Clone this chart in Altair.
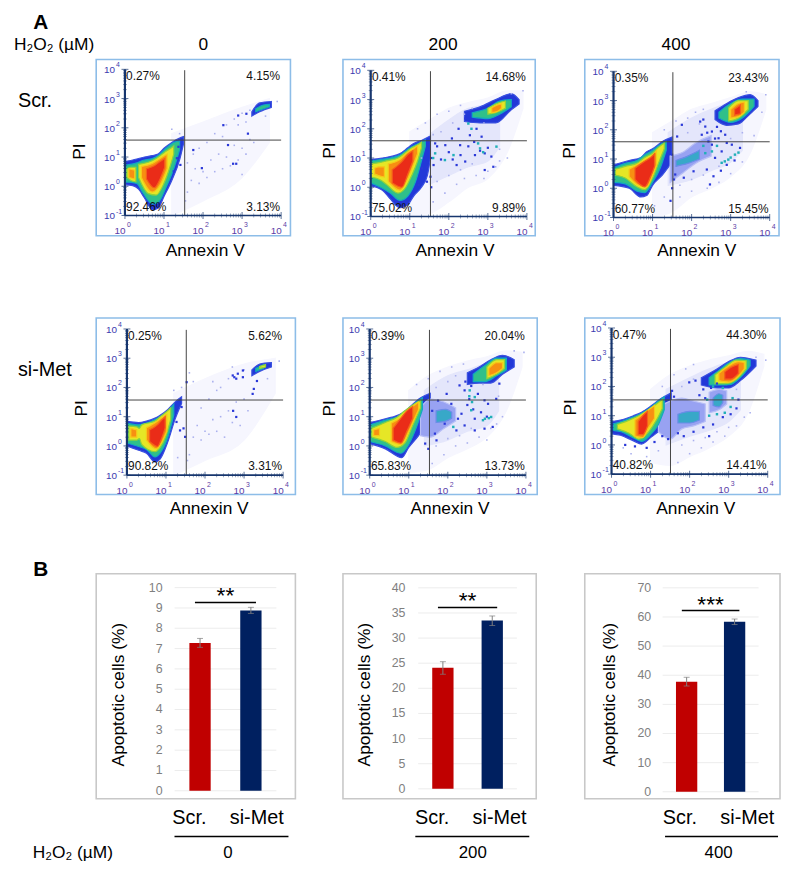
import numpy as np
import pandas as pd
import altair as alt

FONT = "Liberation Sans"
FILL = {"haze": "#f6f6fe", "haze2": "#e4e6fb", "mid": "#98a2f2", "teal": "#38a8c8", "blue": "#2238d8", "green": "#2fc08a", "yellow": "#e6e626", "orange": "#f78f12", "red": "#ea2c18"}
EDGE = {"haze": "#f6f6fe", "haze2": "#e4e6fb", "mid": "#b8bff6", "teal": "#6a8ce8", "blue": "#3a50e0", "green": "#12a8c0", "yellow": "#8fd23c", "orange": "#f7c818", "red": "#f4601a"}

# Density regions: (log10 Annexin V, low log10 PI, high log10 PI)
BLOBS_SCR_0 = [
 ("haze", [(1.2,-1,1.8),(2,-.5,2.2),(3,.3,2.7),(3.7,1.5,3.0)]),
 ("blue", [(0,.05,.85),(.2,.02,.9),(.35,-.1,.95),(.5,-.4,1.0),(.7,-.8,1.05),(.85,-.75,1.1),(1.0,-.35,1.3),(1.2,.2,1.5),(1.4,.9,1.65),(1.5,1.45,1.7)]),
 ("green", [(0,.15,.72),(.3,.1,.8),(.45,-.2,.88),(.7,-.6,.95),(.85,-.55,1.05),(1.05,-.05,1.3),(1.25,.6,1.5),(1.4,1.25,1.55)]),
 ("yellow", [(.05,.3,.6),(.15,.2,.65),(.28,.15,.65)]),
 ("yellow", [(.35,.3,.75),(.6,-.25,.82),(.8,-.3,.95),(1.0,.1,1.15),(1.15,.65,1.28),(1.25,1.1,1.38)]),
 ("orange", [(.1,.3,.6),(.25,.25,.55)]),
 ("orange", [(.42,.3,.68),(.7,-.2,.78),(.9,.05,.95),(1.08,.6,1.1)]),
 ("red", [(.55,.25,.6),(.75,-.05,.7),(.9,.25,.85),(1.02,.65,.95)]),
 ("blue", [(3.25,2.4,2.55),(3.45,2.55,2.85),(3.75,2.7,2.9)]),
 ("green", [(3.35,2.55,2.65),(3.55,2.65,2.78),(3.7,2.72,2.8)]),
]
BLOBS_SCR_200 = [
 ("haze", [(1,-1,1.9),(1.5,-.9,2.3),(2,-.5,2.7),(2.5,.0,2.9),(3,.3,3.05),(3.5,1.2,3.3),(3.9,2.7,3.3)]),
 ("haze2", [(1.5,.1,1.8),(2,.4,2.3),(2.5,.7,2.7),(3,.9,2.8),(3.3,1.4,2.6)]),
 ("blue", [(0,.05,.95),(.3,-.1,1.0),(.5,-.4,1.05),(.75,-.7,1.15),(.95,-.6,1.35),(1.1,-.3,1.5),(1.3,.0,1.6),(1.45,.4,1.7),(1.53,1.0,1.75)]),
 ("green", [(0,.15,.9),(.25,.0,.95),(.5,-.2,1.0),(.75,-.45,1.1),(.95,-.3,1.3),(1.15,.2,1.45),(1.3,.9,1.55),(1.4,1.4,1.62)]),
 ("yellow", [(0,.35,.8),(.25,.25,.85),(.4,.1,.9),(.7,-.2,1.0),(.9,.0,1.2),(1.05,.4,1.35),(1.2,.9,1.45),(1.3,1.35,1.55)]),
 ("orange", [(.1,.45,.65),(.2,.4,.7),(.35,.35,.7)]),
 ("orange", [(.45,.2,.8),(.75,-.1,.95),(.95,.3,1.2),(1.1,.8,1.32),(1.2,1.15,1.42)]),
 ("red", [(.55,.15,.6),(.8,.0,.88),(.95,.45,1.12),(1.08,.9,1.25)]),
 ("blue", [(2.4,2.25,2.6),(2.8,2.2,2.75),(3.2,2.2,3.0),(3.6,2.65,3.2),(3.8,2.85,3.0)]),
 ("green", [(2.6,2.4,2.55),(3.0,2.35,2.7),(3.3,2.5,2.95),(3.6,2.75,3.0)]),
 ("yellow", [(3.0,2.5,2.7),(3.2,2.55,2.85),(3.45,2.7,2.95)]),
 ("orange", [(3.1,2.55,2.72),(3.25,2.6,2.82),(3.35,2.7,2.85)]),
]
BLOBS_SCR_400 = [
 ("haze", [(1,-1,1.9),(1.5,-.8,2.3),(2,-.3,2.7),(2.5,.0,2.9),(3,.4,3.1),(3.5,1.2,3.3),(3.9,2.7,3.2)]),
 ("haze2", [(1.4,.1,1.9),(2,.3,2.4),(2.5,.6,2.7),(3,.9,2.9),(3.3,1.3,2.7)]),
 ("blue", [(0,.1,.8),(.4,.0,.95),(.7,-.3,1.05),(.85,-.25,1.25),(1.0,.1,1.35),(1.25,.45,1.6),(1.5,.9,1.75)]),
 ("mid", [(1.45,.2,1.1),(1.8,.55,1.25),(2.1,.85,1.55),(2.5,1.1,1.8)]),
 ("teal", [(1.6,.75,.95),(1.9,.85,1.1),(2.2,1.0,1.3)]),
 ("green", [(0,.2,.7),(.3,.15,.85),(.6,-.1,.95),(.8,-.15,1.15),(1.0,.2,1.3),(1.2,.7,1.5),(1.35,1.3,1.6)]),
 ("yellow", [(.05,.45,.65),(.3,.35,.75),(.6,.05,.85),(.8,-.05,1.05),(1.0,.35,1.2),(1.15,.85,1.4),(1.3,1.35,1.55)]),
 ("orange", [(.4,.4,.65),(.65,.1,.85),(.85,.05,1.0),(1.0,.45,1.12),(1.1,.8,1.28)]),
 ("red", [(.55,.3,.68),(.8,.05,.92),(.95,.4,1.05),(1.05,.75,1.18)]),
 ("blue", [(2.6,2.35,2.65),(2.9,2.15,2.9),(3.2,2.2,3.1),(3.5,2.55,3.2),(3.7,2.8,3.0)]),
 ("green", [(2.7,2.4,2.6),(3.0,2.25,2.9),(3.3,2.4,3.05),(3.6,2.8,3.05)]),
 ("yellow", [(2.95,2.3,2.75),(3.2,2.4,3.0),(3.45,2.7,3.0)]),
 ("orange", [(3.0,2.4,2.7),(3.2,2.45,2.9),(3.35,2.6,2.95)]),
 ("red", [(3.1,2.5,2.7),(3.25,2.55,2.85)]),
]
BLOBS_MET_0 = [
 ("haze", [(1.2,-1,1.8),(2,-.5,2.3),(3,.2,2.8),(3.8,1.8,3.0)]),
 ("blue", [(0,.0,.85),(.3,-.15,.8),(.5,-.25,.85),(.72,-.55,.95),(.85,-.45,1.05),(1.05,.15,1.25),(1.23,.9,1.5),(1.4,1.45,1.68)]),
 ("green", [(0,.1,.78),(.3,-.02,.72),(.5,-.12,.78),(.72,-.38,.9),(.85,-.25,1.0),(1.05,.3,1.2),(1.2,1.05,1.42)]),
 ("yellow", [(.05,.2,.68),(.25,.2,.65),(.32,.25,.6),(.38,.05,.72),(.72,-.2,.85),(.85,-.05,1.0),(1.0,.35,1.15),(1.12,.9,1.3)]),
 ("orange", [(.1,.3,.6),(.25,.3,.55)]),
 ("orange", [(.5,.2,.62),(.75,-.1,.82),(.9,.15,.97),(1.02,.5,1.08)]),
 ("red", [(.58,.15,.55),(.78,-.02,.72),(.9,.3,.9),(.98,.62,1.0)]),
 ("blue", [(3.2,2.4,2.6),(3.4,2.55,2.8),(3.7,2.7,2.85)]),
 ("green", [(3.3,2.55,2.65),(3.5,2.65,2.78)]),
 ("yellow", [(3.4,2.65,2.72),(3.55,2.7,2.78)]),
]
BLOBS_MET_200 = [
 ("haze", [(1,-.9,1.9),(1.5,-.8,2.4),(2,-.4,2.7),(2.5,-.1,2.9),(3,.3,3.05),(3.5,1.2,3.25),(3.9,2.7,3.2)]),
 ("haze2", [(1.4,.0,1.9),(2,.2,2.4),(2.5,.5,2.6),(3,.7,2.8),(3.3,1.2,2.6)]),
 ("blue", [(0,.08,.8),(.4,-.1,.93),(.82,-.4,1.12),(1.0,-.05,1.3),(1.25,.35,1.6),(1.55,1.0,1.8)]),
 ("mid", [(1.3,.35,1.3),(1.55,.3,1.6),(1.9,.6,1.5),(2.2,.85,1.3)]),
 ("teal", [(1.7,.8,1.2),(1.95,.85,1.25),(2.1,.95,1.15)]),
 ("green", [(0,.15,.72),(.4,.0,.88),(.8,-.25,1.05),(1.0,.05,1.25),(1.2,.65,1.5),(1.35,1.25,1.65)]),
 ("yellow", [(.05,.3,.6),(.4,.15,.8),(.7,-.05,.98),(.9,.1,1.2),(1.1,.7,1.4),(1.3,1.3,1.55)]),
 ("orange", [(.1,.35,.55),(.25,.35,.6)]),
 ("orange", [(.55,.15,.78),(.8,.05,.98),(1.0,.5,1.25),(1.15,.95,1.4),(1.25,1.25,1.5)]),
 ("red", [(.6,.2,.6),(.8,.1,.95),(.95,.5,1.2),(1.1,.95,1.35)]),
 ("blue", [(2.5,2.1,2.5),(2.8,2.15,2.7),(3.1,2.15,2.95),(3.4,2.45,3.1),(3.7,2.7,2.95)]),
 ("green", [(2.65,2.2,2.45),(2.95,2.2,2.75),(3.25,2.4,3.0),(3.5,2.6,3.0)]),
 ("yellow", [(3.0,2.3,2.7),(3.25,2.45,2.95),(3.45,2.65,2.95)]),
 ("orange", [(3.05,2.4,2.65),(3.25,2.5,2.85),(3.4,2.65,2.85)]),
]
BLOBS_MET_400 = [
 ("haze", [(1,-.6,1.9),(1.5,-.7,2.4),(2,-.4,2.7),(2.5,-.1,2.9),(3,.3,3.05),(3.5,1.1,3.2),(3.9,2.7,3.1)]),
 ("haze2", [(1.4,.0,1.9),(2,.3,2.3),(2.5,.5,2.6),(3,.8,2.8),(3.3,1.2,2.6)]),
 ("blue", [(0,.38,.8),(.23,.33,.85),(.56,.14,1.0),(.77,.03,1.12),(1.0,.25,1.32),(1.23,.5,1.55),(1.53,1.1,1.78)]),
 ("mid", [(1.2,.45,1.3),(1.5,.2,1.5),(1.8,.55,1.6),(2.1,.65,1.5),(2.4,.8,1.4)]),
 ("mid", [(2.5,1.1,1.8),(2.75,1.2,1.9),(2.95,1.4,1.85)]),
 ("teal", [(1.7,.75,1.05),(2.0,.75,1.15),(2.25,.85,1.15)]),
 ("teal", [(2.6,1.35,1.6),(2.75,1.3,1.75),(2.85,1.45,1.7)]),
 ("green", [(.05,.5,.72),(.25,.45,.8),(.55,.25,.95),(.77,.12,1.08),(1.0,.35,1.28),(1.2,.7,1.5),(1.35,1.2,1.65)]),
 ("yellow", [(.15,.55,.7),(.45,.4,.85),(.7,.2,1.0),(.95,.45,1.2),(1.15,.85,1.4),(1.3,1.25,1.55)]),
 ("orange", [(.6,.3,.85),(.8,.25,1.05),(.95,.6,1.2),(1.1,.9,1.35)]),
 ("red", [(.68,.35,.8),(.8,.35,1.0),(.92,.65,1.15)]),
 ("blue", [(2.3,2.05,2.3),(2.7,1.95,2.6),(3.0,1.95,2.85),(3.3,2.2,3.0),(3.7,2.7,2.9)]),
 ("green", [(2.5,2.05,2.3),(2.75,2.05,2.55),(3.0,2.05,2.8),(3.3,2.3,2.95),(3.55,2.7,2.9)]),
 ("yellow", [(2.65,2.1,2.4),(2.9,2.1,2.65),(3.2,2.25,2.9),(3.45,2.6,2.88)]),
 ("orange", [(2.75,2.2,2.45),(3.0,2.15,2.7),(3.25,2.35,2.85),(3.4,2.6,2.82)]),
 ("red", [(2.9,2.25,2.5),(3.05,2.25,2.65),(3.25,2.45,2.75)]),
]

# Individually visible specks
PALE_SCR_0 = [(1.6,-.2),(1.7,.2),(1.8,.6),(1.9,.1),(2.0,.5),(2.1,.3),(2.2,.9),(2.3,.5),(2.4,1.1),(2.5,.6),(2.6,1.0),(2.7,.7),(2.8,1.4),(2.9,.9),(3.0,1.3),(3.1,1.1),(3.2,1.6),(3.3,1.5),(2.6,2.1),(2.8,2.3),(2.9,2.1),(3.0,2.5),(3.1,2.2),(3.2,2.6),(3.6,2.4),(3.9,2.9),(3.0,.4),(1.6,.8),(1.75,1.1),(1.9,1.3),(2.1,1.5),(2.3,1.8),(2.5,1.7),(1.4,1.8),(1.2,1.95),(1.55,-.5)]
BLUE_SCR_0 = [(2.77,.77),(2.85,.77),(2.64,1.41),(2.52,2.09),(3.11,2.48),(2.9,2.42),(3.15,1.8),(1.75,1.24),(1.97,.62),(1.42,.73),(1.33,.96),(1.25,.51),(1.37,1.35)]
TEAL_SCR_0 = []
PALE_SCR_200 = [(1.6,-.5),(1.9,-.2),(2.2,.1),(2.4,.3),(2.7,.4),(3.0,.55),(3.3,.9),(3.5,1.0),(1.2,2.0),(1.4,2.2),(1.7,2.5),(2.0,2.6),(2.3,2.8),(3.6,3.2),(3.9,3.3),(3.2,.7),(2.9,.3),(1.8,1.9),(2.1,2.2),(2.4,2.5),(2.6,2.7),(1.7,.2),(2.0,.4),(2.3,.6),(2.6,.8),(3.3,1.3),(1.6,1.8),(2.9,2.2),(1.3,1.0)]
BLUE_SCR_200 = [(1.61,.76),(1.91,1.44),(2.29,1.44),(2.08,1.67),(2.25,2.0),(2.42,2.35),(2.54,1.78),(2.71,2.0),(2.84,1.73),(2.92,1.16),(3.09,1.05),(2.67,1.1),(2.42,.88),(2.2,.76),(2.92,.59),(3.14,.7),(1.53,.36),(1.44,.19),(1.31,.65),(1.23,.08),(1.7,1.4),(1.8,.95),(2.0,1.2),(2.3,1.1),(2.5,1.4),(2.6,2.3),(2.65,1.55),(2.8,1.25),(3.0,1.35),(1.55,1.0),(1.65,1.5),(2.1,.95),(1.55,.0),(1.45,.7)]
TEAL_SCR_200 = [(1.65,1.16),(2.12,1.1),(1.9,.93),(2.88,1.2),(3.22,1.39),(2.5,2.18),(2.58,2.0),(2.75,1.5),(2.8,1.33),(1.6,1.0)]
PALE_SCR_400 = [(1.3,2.0),(1.6,2.3),(1.9,2.4),(2.1,2.6),(2.3,2.7),(1.7,-.3),(2.0,-.1),(2.4,.0),(2.7,.2),(3.0,.5),(3.3,.9),(3.6,1.8),(3.8,2.6),(3.9,3.2),(3.4,3.3),(1.7,.1),(2.0,.3),(2.3,.45),(2.7,.75),(3.0,1.7),(3.3,1.9),(1.9,1.9),(2.2,2.2),(1.3,-.3),(1.05,-.6)]
BLUE_SCR_400 = [(2.22,2.28),(2.35,2.11),(2.52,1.94),(2.69,1.71),(2.86,1.83),(3.03,1.49),(2.43,1.6),(2.26,1.83),(2.52,1.49),(2.77,1.26),(2.6,1.04),(2.39,.64),(2.56,.41),(2.47,.13),(3.24,1.38),(1.75,2.17),(1.63,1.77),(1.5,1.15),(1.46,-.43),(2.05,.58),(1.8,.36),(1.58,.47),(2.65,2.1),(2.3,2.35),(2.4,1.9),(2.9,1.55),(3.1,.95),(2.9,.8),(2.75,.6),(1.5,.0),(1.55,.3),(2.6,1.7),(2.75,1.95)]
TEAL_SCR_400 = [(2.94,.98),(3.11,1.15),(2.77,.87),(2.35,1.2),(2.52,1.26),(3.0,1.05),(2.85,.92),(3.2,1.22),(2.65,1.45),(2.3,1.45)]
PALE_MET_0 = [(1.6,-.3),(1.7,.3),(1.8,.7),(1.9,.2),(2.0,.5),(2.1,.4),(2.2,.9),(2.3,.5),(2.4,1.0),(2.5,.3),(2.6,1.2),(2.7,.8),(2.8,1.5),(2.9,.7),(3.0,1.6),(3.1,1.2),(2.6,2.3),(2.4,2.0),(2.2,2.2),(1.6,2.5),(1.7,2.2),(1.9,1.3),(2.1,1.6),(2.3,1.9),(1.2,1.9),(1.4,2.0),(3.6,2.3),(3.9,2.9),(3.0,2.6),(2.7,2.7),(1.55,-.5),(1.3,-.4)]
BLUE_MET_0 = [(2.71,2.41),(2.84,2.47),(2.97,2.35),(2.97,2.58),(3.33,2.22),(3.22,1.78),(2.8,.99),(1.49,.31),(1.36,.53),(1.27,.82),(1.4,1.33),(1.53,2.18),(2.75,2.35),(2.8,2.3),(3.25,1.95),(2.72,1.2),(1.45,.6)]
TEAL_MET_0 = []
PALE_MET_200 = [(1.6,-.6),(1.9,-.3),(2.2,.0),(2.5,.1),(2.8,.3),(3.1,.6),(3.4,1.0),(1.2,2.1),(1.5,2.3),(1.8,2.55),(2.1,2.7),(2.4,2.8),(3.7,3.25),(3.95,3.2),(3.0,.2),(3.25,.75),(1.7,.0),(2.0,.25),(2.3,.35),(2.6,.6),(3.3,1.7),(1.7,2.0),(2.0,2.2),(2.2,2.4),(2.9,2.1)]
BLUE_MET_200 = [(2.09,1.44),(1.97,1.78),(2.3,2.07),(2.43,1.9),(2.77,1.78),(2.94,1.56),(3.24,1.61),(3.32,2.13),(2.26,.93),(2.43,.7),(2.22,.53),(2.69,.93),(2.35,1.1),(1.67,.42),(1.42,.08),(1.71,.19),(1.92,.76),(3.03,1.44),(3.15,.65),(2.69,.53),(2.94,.59),(1.6,1.2),(1.75,1.55),(2.55,1.6),(2.65,1.25),(2.85,1.15),(2.45,2.2),(2.6,2.05),(3.0,1.0),(1.5,-.1),(2.5,1.4)]
TEAL_MET_200 = [(2.6,1.22),(2.69,1.67),(2.56,1.9),(2.9,.88),(3.11,.99),(2.14,.65),(2.62,1.5),(2.55,1.7),(2.95,.93),(3.05,.95)]
PALE_MET_400 = [(1.7,-.6),(2.0,-.3),(2.3,-.1),(2.6,.1),(2.9,.3),(3.2,.65),(3.4,.95),(3.55,1.1),(1.3,2.0),(1.6,2.4),(1.9,2.6),(2.1,2.75),(3.7,3.0),(3.95,2.9),(.3,-.1),(.5,-.3),(.9,-.4),(1.2,-.2),(1.8,.0),(2.1,.15),(2.4,.25),(2.7,.45),(3.0,.6),(1.8,2.0),(2.1,2.25),(3.2,1.9)]
BLUE_MET_400 = [(1.99,2.14),(2.15,2.2),(2.35,1.9),(2.4,1.6),(1.6,1.65),(1.55,1.85),(1.7,.4),(1.85,.3),(2.1,.45),(2.35,.6),(2.6,.7),(2.85,.95),(3.05,1.05),(3.2,1.25),(3.25,1.55),(3.0,2.0),(2.7,2.1),(2.5,.3),(.35,.0),(.6,-.05),(.9,-.1),(1.1,.1),(1.3,.3),(1.45,.2),(2.25,1.7),(2.55,1.95)]
TEAL_MET_400 = [(2.7,1.05),(2.9,1.1),(3.05,1.3),(2.5,1.0),(2.85,1.95),(2.6,2.0),(2.45,1.55),(3.1,1.6)]

X_TICKS = [0, 1, 2, 3, 4]
Y_TICKS = [-1, 0, 1, 2, 3, 4]
MULT = [2, 3, 4, 5, 6, 7, 8, 9]
QUADRANTS = {
    "scr0": ["0.27%", "4.15%", "92.46%", "3.13%"],
    "scr200": ["0.41%", "14.68%", "75.02%", "9.89%"],
    "scr400": ["0.35%", "23.43%", "60.77%", "15.45%"],
    "met0": ["0.25%", "5.62%", "90.82%", "3.31%"],
    "met200": ["0.39%", "20.04%", "65.83%", "13.73%"],
    "met400": ["0.47%", "44.30%", "40.82%", "14.41%"],
}
CONDITIONS = ["Scr.", "si-Met"]
BAR_COLORS = ["#c00000", "#002060"]
DOSES = ["0", "200", "400"]
BAR_VALUES = [[7.27, 8.87], [24.1, 33.5], [37.8, 58.4]]
ERR_LOW = [[7.06, 8.73], [22.8, 32.5], [36.3, 57.4]]
ERR_HIGH = [[7.5, 9.03], [25.3, 34.4], [39.3, 59.3]]
BAR_TICKS = [list(range(0, 11)), list(range(0, 41, 5)), list(range(0, 71, 10))]
SIG_Y = [9.27, 36.1, 62.2]
SIG_STARS = ["**", "**", "***"]


def label(text, x, y, size=17, weight="normal", angle=0, align="center", color="black"):
    return alt.Chart(pd.DataFrame({"t": [text]})).mark_text(
        font=FONT, fontSize=size, fontWeight=weight, angle=angle, align=align,
        baseline="middle", color=color
    ).encode(x=alt.value(x), y=alt.value(y), text="t:N")


def flow(key, blobs, pale, blue, teal, gate, w, left, top, xtitle, ytitle, xdec=39.4, ydec=29.5):
    h = 178
    xs = alt.Scale(domain=[-left / xdec, (w - left) / xdec], nice=False, zero=False)
    ys = alt.Scale(domain=[-1 - (h - top - 5 * ydec) / ydec, 4 + top / ydec], nice=False, zero=False)
    X = lambda f="x": alt.X(f"{f}:Q", scale=xs, axis=None)
    Y = lambda f="y": alt.Y(f"{f}:Q", scale=ys, axis=None, stack=None)

    rows = []
    for i, (lev, pts) in enumerate(blobs):
        for (x, lo, hi) in pts:
            rows.append({"x": x, "lo": lo, "hi": hi, "fill": FILL[lev], "edge": EDGE[lev], "blob": f"{i:02d}"})
    blob_df = pd.DataFrame(rows)

    def dots(pts, color, size):
        d = pd.DataFrame(pts if pts else [(-9.0, -9.0)], columns=["x", "y"])
        return alt.Chart(d).transform_filter("datum.x > -5").mark_square(color=color, size=size, opacity=1).encode(x=X(), y=Y())

    y_axis = alt.Chart(pd.DataFrame({"x": [0], "y": [-1], "y2": [4]})).mark_rule(
        color="#17366e", strokeWidth=2.2).encode(x=X(), y=Y(), y2="y2:Q")
    x_axis = alt.Chart(pd.DataFrame({"x": [0], "x2": [4], "y": [-1]})).mark_rule(
        color="#17366e", strokeWidth=1.6).encode(x=X(), x2="x2:Q", y=Y())

    areas = alt.Chart(blob_df).mark_area(interpolate="monotone", strokeWidth=1.2).encode(
        x=X(), y=Y("lo"), y2="hi:Q",
        color=alt.Color("fill:N", scale=None),
        stroke=alt.Stroke("edge:N", scale=None),
        detail="blob:N",
    )
    gate_v = alt.Chart(pd.DataFrame({"x": [gate[0]], "y": [-1], "y2": [3.97]})).mark_rule(
        color="#444444", strokeWidth=1).encode(x=X(), y=Y(), y2="y2:Q")
    gate_h = alt.Chart(pd.DataFrame({"x": [0], "x2": [4], "y": [gate[1]]})).mark_rule(
        color="#444444", strokeWidth=1).encode(x=X(), x2="x2:Q", y=Y())

    decades_x = [d + np.log10(m) for d in X_TICKS[:-1] for m in MULT]
    decades_y = [d + np.log10(m) for d in Y_TICKS[:-1] for m in MULT]
    minor_x = alt.Chart(pd.DataFrame({"x": decades_x, "y": -1.0})).mark_tick(
        orient="vertical", size=4, thickness=0.6, color="#17366e").encode(x=X(), y=Y())
    minor_y = alt.Chart(pd.DataFrame({"x": 0.0, "y": decades_y})).mark_tick(
        orient="horizontal", size=4, thickness=0.6, color="#17366e").encode(x=X(), y=Y())
    major_x = alt.Chart(pd.DataFrame({"x": X_TICKS, "y": -1.0})).mark_tick(
        orient="vertical", size=7, thickness=1, color="#17366e").encode(x=X(), y=Y())
    major_y = alt.Chart(pd.DataFrame({"x": 0.0, "y": Y_TICKS})).mark_tick(
        orient="horizontal", size=7, thickness=1, color="#17366e").encode(x=X(), y=Y())

    xt = pd.DataFrame({"x": X_TICKS, "y": -1.0, "exp": [str(v) for v in X_TICKS], "b": "10"})
    yt = pd.DataFrame({"x": 0.0, "y": Y_TICKS, "exp": [str(v) for v in Y_TICKS], "b": "10"})
    PURPLE, BLUE = "#5b3da6", "#3b3bb0"
    x10 = alt.Chart(xt).mark_text(font=FONT, fontSize=10, color=PURPLE, align="center", dx=-5, dy=16).encode(x=X(), y=Y(), text="b:N")
    xe = alt.Chart(xt).mark_text(font=FONT, fontSize=7, color=PURPLE, align="left", dx=2, dy=10).encode(x=X(), y=Y(), text="exp:N")
    y10 = alt.Chart(yt).mark_text(font=FONT, fontSize=10, color=BLUE, align="right", dx=-10, dy=1).encode(x=X(), y=Y(), text="b:N")
    ye = alt.Chart(yt).mark_text(font=FONT, fontSize=7, color=BLUE, align="left", dx=-9, dy=-4).encode(x=X(), y=Y(), text="exp:N")

    q = QUADRANTS[key]
    qdf = pd.DataFrame({"x": [.03, 3.97, .03, 3.97], "y": [3.76, 3.76, -.7, -.7], "t": q,
                        "a": ["l", "r", "l", "r"]})
    q_left = alt.Chart(qdf[qdf.a == "l"]).mark_text(font=FONT, fontSize=12, align="left", color="#111").encode(x=X(), y=Y(), text="t:N")
    q_right = alt.Chart(qdf[qdf.a == "r"]).mark_text(font=FONT, fontSize=12, align="right", color="#111").encode(x=X(), y=Y(), text="t:N")

    return alt.layer(
        areas, dots(pale, "#aab0ee", 2.5), dots(blue, "#2a38d8", 5), dots(teal, "#20b0b8", 6),
        gate_v, gate_h, y_axis, x_axis, minor_x, minor_y, major_x, major_y, x10, xe, y10, ye, q_left, q_right,
        label("Annexin V", xtitle, h + 15, size=17.5),
        label("PI", ytitle[0], ytitle[1], size=17.5, angle=270),
    ).properties(width=w, height=h, view=alt.ViewBackground(stroke="#8dbde8", strokeWidth=1.6, fill="white"))


def bars(i, w, a, sep, y0, unit, tick_right, title_x, star_dy, lab_x, rule_x, dose_x):
    h = 227
    xs = alt.Scale(domain=[-a / sep, (w - a) / sep], nice=False, zero=False)
    ys = alt.Scale(domain=[-(h - y0) / unit, y0 / unit], nice=False, zero=False)
    X = lambda: alt.X("i:Q", scale=xs, axis=None)
    Y = lambda f="v": alt.Y(f"{f}:Q", scale=ys, axis=None)
    df = pd.DataFrame({"i": [0, 1], "cond": CONDITIONS, "c": BAR_COLORS, "v": BAR_VALUES[i], "lo": ERR_LOW[i],
                       "hi": ERR_HIGH[i], "z": [0, 0]})
    tick_df = pd.DataFrame({"i": -0.5, "i2": 1.5, "v": BAR_TICKS[i]})
    grid = alt.Chart(tick_df).mark_rule(color="#ececec", strokeWidth=1).encode(x=X(), x2="i2:Q", y=Y())
    tick_text = alt.Chart(tick_df).mark_text(
        font=FONT, fontSize=12.5, color="#7f7f7f", align="right", baseline="middle"
    ).encode(x=alt.value(tick_right), y=Y(), text="v:Q")
    bar = alt.Chart(df).mark_bar(size=21.5, orient="vertical").encode(
        x=X(), y=Y(), y2="z:Q", color=alt.Color("c:N", scale=None),
    )
    err = alt.Chart(df).mark_rule(color="#7f7f7f", strokeWidth=1).encode(x=X(), y=Y("lo"), y2="hi:Q")
    cap_lo = alt.Chart(df).mark_tick(orient="horizontal", size=6, thickness=1, color="#7f7f7f").encode(x=X(), y=Y("lo"))
    cap_hi = alt.Chart(df).mark_tick(orient="horizontal", size=6, thickness=1, color="#7f7f7f").encode(x=X(), y=Y("hi"))
    sig = alt.Chart(pd.DataFrame({"i": [-0.1], "i2": [1.1], "v": [SIG_Y[i]]})).mark_rule(
        color="black", strokeWidth=1.6).encode(x=X(), x2="i2:Q", y=Y())
    stars = alt.Chart(pd.DataFrame({"i": [0.5], "v": [SIG_Y[i]], "t": [SIG_STARS[i]]})).mark_text(
        font=FONT, fontSize=23, align="center", baseline="middle", dy=star_dy, color="black"
    ).encode(x=X(), y=Y(), text="t:N")
    under = alt.Chart(pd.DataFrame({"a": [0]})).mark_rule(color="black", strokeWidth=1.5).encode(
        x=alt.value(rule_x[0]), x2=alt.value(rule_x[1]), y=alt.value(265))
    return alt.layer(
        grid, tick_text, bar, err, cap_lo, cap_hi, sig, stars, under,
        label("Apoptotic cells (%)", title_x, 122, size=17.5, angle=270),
        label(CONDITIONS[0], lab_x[0], 246, size=20),
        label(CONDITIONS[1], lab_x[1], 246, size=20),
        label(DOSES[i], dose_x, 282, size=17),
    ).properties(width=w, height=h, view=alt.ViewBackground(stroke="#c8c8c8", strokeWidth=1.6, fill="white"))


def blank(width, height, *items):
    layers = list(items) if items else [label(" ", 0, height / 2)]
    return alt.layer(*layers).properties(width=width, height=height)


cells = [
    # header strip
    blank(41, 48,
          label("A", 33, 11, size=21, weight="bold"),
          label("H\u2082O\u2082 (\u00b5M)", 6, 33, size=17.5, align="left"),
          label(DOSES[0], 197, 33, size=17.5),
          label(DOSES[1], 439, 33, size=17.5),
          label(DOSES[2], 674, 33, size=17.5)),
    blank(1, 48), blank(1, 48), blank(1, 48),
    # first flow row
    blank(41, 178, label("Scr.", 10, 42, size=20, align="left")),
    flow("scr0", BLOBS_SCR_0, PALE_SCR_0, BLUE_SCR_0, TEAL_SCR_0, (1.53, 1.58), 196, 29, 10, 110, (-16, 93)),
    flow("scr200", BLOBS_SCR_200, PALE_SCR_200, BLUE_SCR_200, TEAL_SCR_200, (1.53, 1.59), 194, 28, 11, 113, (-13, 92)),
    flow("scr400", BLOBS_SCR_400, PALE_SCR_400, BLUE_SCR_400, TEAL_SCR_400, (1.52, 1.59), 196, 29, 12, 113, (-15, 92)),
    blank(1, 83), blank(1, 83), blank(1, 83), blank(1, 83),
    # second flow row
    blank(35, 178, label("si-Met", 10, 52, size=20, align="left")),
    flow("met0", BLOBS_MET_0, PALE_MET_0, BLUE_MET_0, TEAL_MET_0, (1.52, 1.57), 201, 31, 11, 114, (-14, 91)),
    flow("met200", BLOBS_MET_200, PALE_MET_200, BLUE_MET_200, TEAL_MET_200, (1.53, 1.57), 196, 27, 11, 108, (-13, 91)),
    flow("met400", BLOBS_MET_400, PALE_MET_400, BLUE_MET_400, TEAL_MET_400, (1.51, 1.54), 197, 27, 10, 112, (-14, 90)),
    blank(38, 80, label("B", 33, 76, size=21, weight="bold")), blank(1, 80), blank(1, 80), blank(1, 80),
    # bar row
    blank(36, 227, label("H\u2082O\u2082 (\u00b5M)", 25, 282, size=17.5, align="left")),
    bars(0, 201, 105, 54, 219, 20.5, 67, 23, -6, (94, 162), (79, 194), 133),
    bars(1, 195, 101, 52.5, 217, 5.07, 63, 22, -6, (90, 158), (73, 188), 131),
    bars(2, 197, 103, 51, 220, 2.94, 67, 25, -6, (96, 164), (81, 195), 135),
]

chart = alt.concat(
    *cells, columns=4, spacing={"row": 0, "column": 48}, bounds="flush",
    align={"row": "each", "column": "none"},
).properties(padding=0).configure_view(stroke=None)

chart.save("out.html", embed_options={"renderer": "svg", "actions": False})
